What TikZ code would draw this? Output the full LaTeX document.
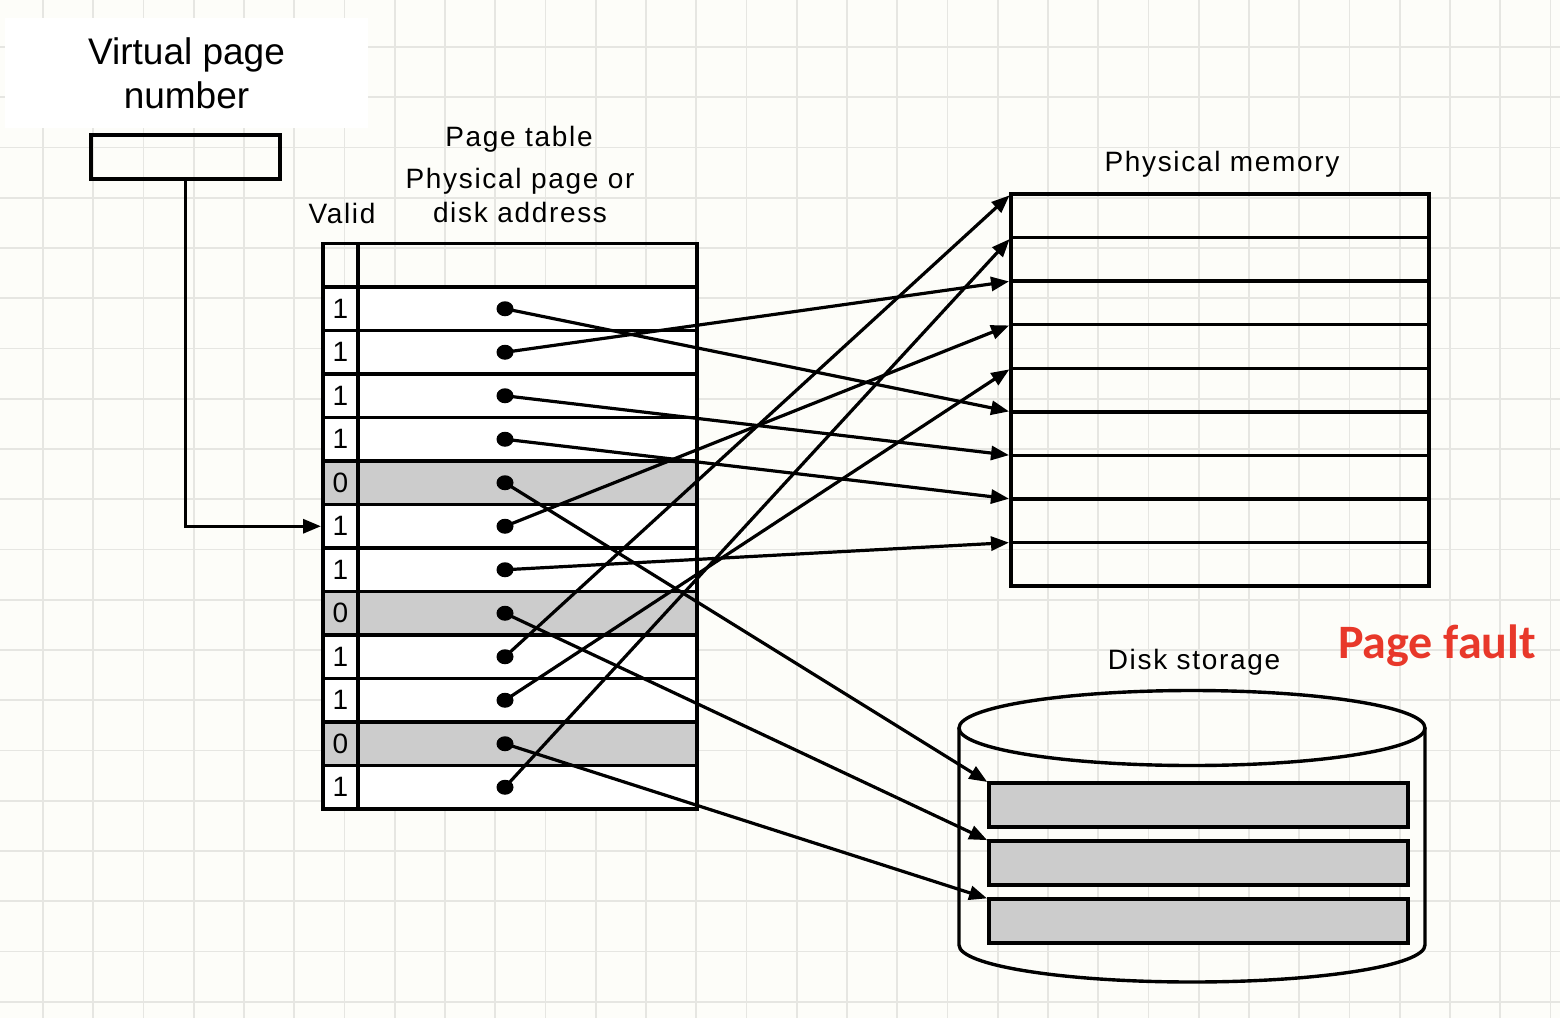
\documentclass[tikz,border=0pt]{standalone}
\usepackage{fontspec}
\setmainfont{Liberation Sans}
\newfontfamily\spacedfont{Liberation Sans}[LetterSpace=6]
\newfontfamily\calibri{Carlito}
\usetikzlibrary{arrows.meta, positioning, shapes.geometric}
\definecolor{paper}{HTML}{FDFDF9}
\definecolor{gridgray}{HTML}{E6E6E2}
\definecolor{slotgray}{HTML}{CCCCCC}
\definecolor{faultred}{HTML}{E8382A}

\begin{document}
\begin{tikzpicture}[x=0.5pt, y=-0.5pt, font=\spacedfont\fontsize{14}{17}\selectfont]
    \tikzset{
    cell/.style    = {draw, line width=1.7pt, minimum height=21.75pt, inner sep=0pt, outer sep=0pt},
    vcell/.style   = {cell, minimum width=17.5pt},
    acell/.style   = {cell, minimum width=169.5pt},
    frame/.style   = {draw, line width=1.7pt, minimum width=209pt, minimum height=21.78pt, inner sep=0pt, outer sep=0pt},
    slot/.style    = {draw, line width=1.7pt, fill=slotgray, minimum width=209.5pt, minimum height=22pt, inner sep=0pt, outer sep=0pt},
    pin/.style     = {ellipse, fill, inner sep=0pt, minimum width=8.5pt, minimum height=7.5pt},
    link/.style    = {line width=1.6pt, shorten >=1pt, -{Triangle[length=9pt, width=7pt]}}
    }
    \useasboundingbox (0,0) rectangle (1560,1018);

    % Paper and grid
    \fill[paper] (0,0) rectangle (1560,1018);
    \foreach \k in {0,...,30}
        \draw[gridgray, line width=0.8pt] (43+50.25*\k,0) -- ++(0,1018);
    \foreach \k in {0,...,19}
        \draw[gridgray, line width=0.8pt] (0,47+50.25*\k) -- ++(1560,0);

    % Virtual page number
    \node[fill=white, minimum width=181.5pt, minimum height=55pt, align=center,
          font=\fontsize{18.5}{22}\selectfont] (vpnlabel) at (186.5,73) {Virtual page\\number};
    \node[draw, line width=1.7pt, minimum width=94.5pt, minimum height=22pt] (vpn) at (185.5,157) {};

    % Page table
    \node[cell, minimum width=17.5pt] (v0) at (340.5,265.25) {};
    \node[cell, minimum width=169.5pt] (a0) at (527.5,265.25) {};
    \foreach \v [count=\i, remember=\i as \j (initially 0)] in {1,1,1,1,0,1,1,0,1,1,0,1} {
        \ifnum\v=0 \def\rowcol{slotgray}\else\def\rowcol{white}\fi
        \node[vcell, fill=\rowcol, below=0pt of v\j] (v\i) {\v};
        \node[acell, fill=\rowcol, below=0pt of a\j] (a\i) {};
        \node[pin, xshift=-11.25pt] (d\i) at (a\i) {};
    }
    \node (ptlabel) at (519,139) {Page table};
    \node[align=center] (addrlabel) at (520,195) {Physical page or\\disk address};
    \node (validlabel) at (342,213) {Valid};

    % Physical memory
    \node[frame] (pm1) at (1220,215.8) {};
    \foreach \i [remember=\i as \j (initially 1)] in {2,...,9}
        \node[frame, below=0pt of pm\j] (pm\i) {};
    \node (pmlabel) at (1222,164) {Physical memory};

    % Disk storage
    \draw[line width=1.7pt] (959,728) -- (959,945) arc[start angle=180, end angle=0, x radius=233, y radius=37] -- (1425,728);
    \draw[line width=1.7pt] (1192,728) ellipse[x radius=233, y radius=37.5];
    \node[slot] (ds1) at (1198.5,805) {};
    \node[slot, below=7pt of ds1] (ds2) {};
    \node[slot, below=7pt of ds2] (ds3) {};
    \node (disklabel) at (1194,662) {Disk storage};
    \node[text=faultred, font=\calibri\bfseries\fontsize{24}{28}\selectfont] (fault) at (1437,646) {Page fault};

    % Connections
    \draw[link] (vpn.south) |- (v6.west);
    \foreach \r/\f in {1/6, 2/3, 3/7, 4/8, 6/4, 7/9, 9/1, 10/5, 12/2}
        \draw[link] (d\r.center) -- (pm\f.north west);
    \foreach \r/\s in {5/1, 8/2, 11/3}
        \draw[link] (d\r.center) -- (ds\s.north west);
\end{tikzpicture}
\end{document}
